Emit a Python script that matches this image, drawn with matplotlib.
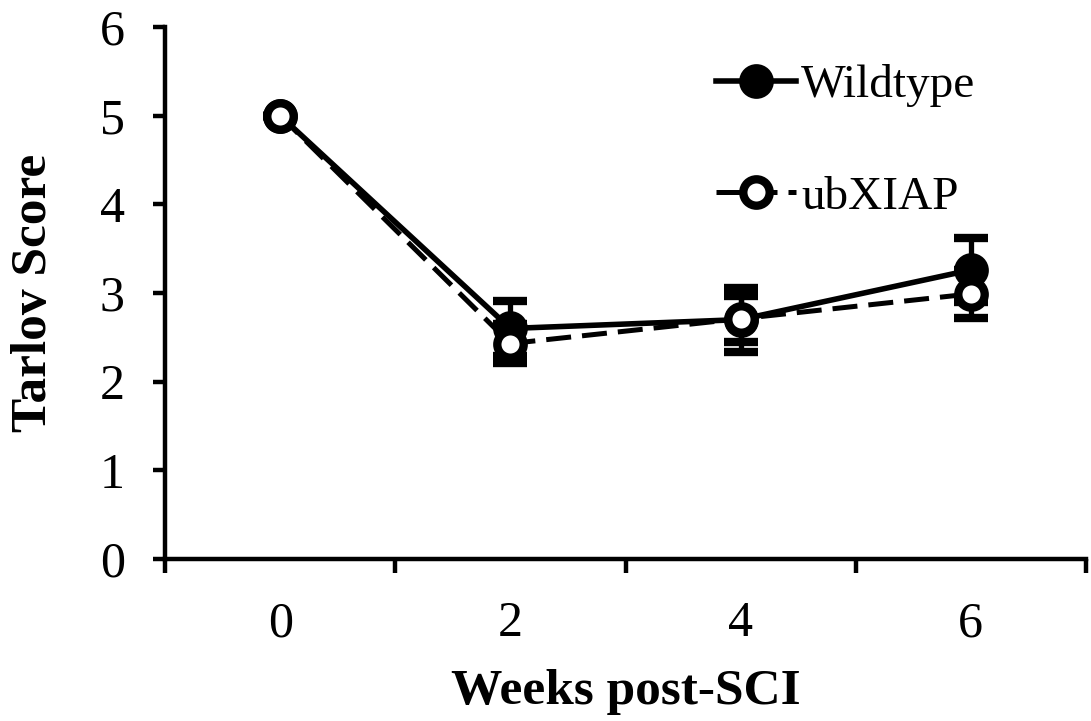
import matplotlib
matplotlib.use("Agg")
import matplotlib.pyplot as plt
from matplotlib.ticker import FixedLocator, NullFormatter, FixedFormatter
from matplotlib.lines import Line2D

plt.rcParams['font.family'] = ['Liberation Serif', 'DejaVu Serif']

weeks = [0, 2, 4, 6]
week_labels = ["0", "2", "4", "6"]
wildtype = [5.0, 2.6, 2.7, 3.26]
wildtype_err = [0.0, 0.31, 0.36, 0.36]
ubxiap = [5.0, 2.43, 2.71, 2.99]
ubxiap_err = [0.0, 0.22, 0.26, 0.27]
y_ticks = [0, 1, 2, 3, 4, 5, 6]

fig = plt.figure(figsize=(10.91, 7.21), dpi=100)
ax = fig.add_axes([165/1091, 1 - 559/721, (1086 - 165)/1091, (559 - 27)/721])

ms = 19
mew = 6
lw = 4.0
dash = (0, (5, 2.2))
ax.errorbar(weeks, wildtype, yerr=wildtype_err, color='black', lw=lw,
            marker='o', ms=ms, mew=mew, mfc='black', mec='black',
            ecolor='black', elinewidth=3.8, capsize=12, capthick=3.8,
            zorder=3, clip_on=False)
ax.errorbar(weeks, ubxiap, yerr=ubxiap_err, color='black', lw=3.6,
            ls=dash, marker='o', ms=ms, mew=mew, mfc='white', mec='black',
            ecolor='black', elinewidth=3.8, capsize=12, capthick=3.8,
            zorder=4, clip_on=False)

ax.set_xlim(-1, 7)
ax.set_ylim(0, 6)

for s in ['top', 'right']:
    ax.spines[s].set_visible(False)
for s in ['left', 'bottom']:
    ax.spines[s].set_linewidth(3.2)

ax.set_yticks(y_ticks)
ax.set_yticklabels([str(v) for v in y_ticks])
ax.tick_params(axis='y', direction='out', length=9, width=3.2, pad=20, labelsize=36)

ax.xaxis.set_major_locator(FixedLocator([-1, 1, 3, 5, 7]))
ax.xaxis.set_major_formatter(NullFormatter())
ax.xaxis.set_minor_locator(FixedLocator(weeks))
ax.xaxis.set_minor_formatter(FixedFormatter(week_labels))
ax.tick_params(axis='x', which='major', direction='out', length=10, width=3.2)
ax.tick_params(axis='x', which='minor', length=0, pad=30, labelsize=36)

ax.set_xlabel('Weeks post-SCI', fontsize=37, fontweight='bold', labelpad=16)
ax.set_ylabel('Tarlov Score', fontsize=37, fontweight='bold', labelpad=31)

handles = [
    Line2D([], [], color='black', lw=lw, marker='o', ms=ms, mew=mew,
           mfc='black', mec='black'),
    Line2D([], [], color='black', lw=3.6, ls=dash, marker='o', ms=ms, mew=mew,
           mfc='white', mec='black'),
]
leg = ax.legend(handles, ['Wildtype', 'ubXIAP'], loc='upper left',
                bbox_to_anchor=(716/1091, 1 - 64/721),
                bbox_transform=fig.transFigure, frameon=False, fontsize=34,
                handlelength=1.7, handletextpad=0.1, labelspacing=1.45,
                borderpad=0, borderaxespad=0)

fig.savefig('out.png', dpi=100)
